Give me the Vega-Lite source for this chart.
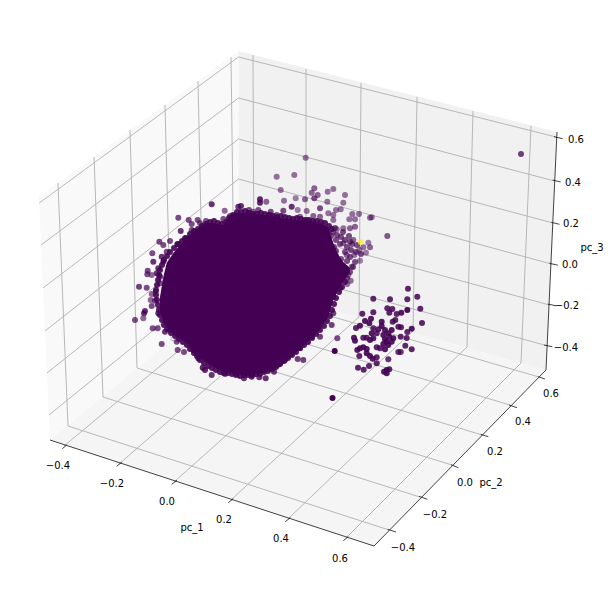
{
"$schema":"https://vega.github.io/schema/vega-lite/v6.json",
"width":610,"height":590,"padding":0,
"autosize":{"type":"fit","contains":"padding"},
"background":"white",
"config":{"view":{"stroke":null}},
"datasets":{
"panes":[
{"pane":"pc_1 wall","h":39,"v":197,"v2":197},{"pane":"pc_1 wall","h":50,"v":189,"v2":440},{"pane":"pc_1 wall","h":238.5,"v":51,"v2":284},
{"pane":"pc_2 wall","h":238.5,"v":51,"v2":284},{"pane":"pc_2 wall","h":546,"v":129.2,"v2":370},{"pane":"pc_2 wall","h":557,"v":132,"v2":132},
{"pane":"floor","h":50,"v":440,"v2":440},{"pane":"floor","h":239,"v":284,"v2":501.8},{"pane":"floor","h":374,"v":321.8,"v2":546},{"pane":"floor","h":546,"v":370,"v2":370}
],
"grid":[
{"h":238.5,"v":57,"h2":39.3,"v2":203},{"h":238.5,"v":98,"h2":41,"v2":245},{"h":238.5,"v":139,"h2":43,"v2":288},{"h":238.5,"v":179,"h2":45,"v2":331},{"h":238.5,"v":220,"h2":47,"v2":373},{"h":238.5,"v":261,"h2":49,"v2":415},
{"h":238.5,"v":57,"h2":556,"v2":137},{"h":238.5,"v":98,"h2":554.5,"v2":181},{"h":238.5,"v":139,"h2":553,"v2":223},{"h":238.5,"v":179,"h2":551.5,"v2":264},{"h":238.5,"v":220,"h2":549.5,"v2":305},{"h":238.5,"v":261,"h2":548,"v2":346},
{"h":58,"v":183,"h2":68,"v2":426},{"h":94,"v":157,"h2":103,"v2":397},{"h":130,"v":130,"h2":137,"v2":368},{"h":165,"v":105,"h2":171,"v2":340},{"h":198,"v":81,"h2":203,"v2":313},{"h":231,"v":57,"h2":234,"v2":288},
{"h":253,"v":55,"h2":254,"v2":288},{"h":306,"v":69,"h2":306,"v2":302},{"h":361,"v":83,"h2":359,"v2":317},{"h":417,"v":97,"h2":413,"v2":331},{"h":473,"v":111,"h2":467,"v2":347},{"h":531,"v":126,"h2":521,"v2":363},
{"h":64,"v":446,"h2":254,"v2":288},{"h":119,"v":464,"h2":306,"v2":302},{"h":174,"v":482,"h2":359,"v2":317},{"h":231,"v":500,"h2":413,"v2":331},{"h":288,"v":519,"h2":467,"v2":347},{"h":346,"v":538,"h2":521,"v2":363},
{"h":68,"v":426,"h2":389,"v2":530},{"h":103,"v":397,"h2":420,"v2":497},{"h":137,"v":368,"h2":452,"v2":465},{"h":171,"v":340,"h2":482,"v2":435},{"h":203,"v":313,"h2":510,"v2":405},{"h":234,"v":288,"h2":539,"v2":377}
],
"axes":[
{"h":50,"v":440,"h2":374,"v2":546},{"h":374,"v":546,"h2":546,"v2":370},{"h":546,"v":370,"h2":557,"v2":132},
{"h":62.3,"v":448.7,"h2":66.7,"v2":445},{"h":116.7,"v":466.3,"h2":121.7,"v2":462.3},{"h":171.7,"v":484.3,"h2":177,"v2":480.3},{"h":228.3,"v":502.7,"h2":233.3,"v2":498.7},{"h":285.3,"v":521.7,"h2":290.3,"v2":517.7},{"h":343.3,"v":540.7,"h2":348.3,"v2":536.7},
{"h":387.7,"v":529.3,"h2":396,"v2":532},{"h":419,"v":496.3,"h2":427.3,"v2":499.3},{"h":451,"v":464.7,"h2":458.3,"v2":467.7},{"h":480.7,"v":434.3,"h2":488.3,"v2":436.7},{"h":509,"v":405,"h2":517,"v2":407.7},{"h":538.3,"v":376.7,"h2":545,"v2":379},
{"h":554,"v":136.7,"h2":562.7,"v2":138.7},{"h":552.7,"v":180,"h2":560.7,"v2":182},{"h":551.3,"v":222.3,"h2":559.5,"v2":224.3},{"h":549.5,"v":263.3,"h2":557.8,"v2":265.2},{"h":547.8,"v":304,"h2":556,"v2":305.8},{"h":544,"v":345,"h2":552.3,"v2":346.7}
],
"labels":[
{"h":58,"v":466,"label":"−0.4"},{"h":112,"v":484,"label":"−0.2"},{"h":167,"v":502,"label":"0.0"},{"h":224,"v":520,"label":"0.2"},{"h":281,"v":539,"label":"0.4"},{"h":340,"v":559,"label":"0.6"},{"h":192,"v":528,"label":"pc_1"},
{"h":551,"v":394,"label":"0.6"},{"h":523,"v":422,"label":"0.4"},{"h":495,"v":452,"label":"0.2"},{"h":465,"v":483,"label":"0.0"},{"h":435,"v":515,"label":"−0.2"},{"h":403,"v":548,"label":"−0.4"},{"h":491,"v":483,"label":"pc_2"},
{"h":576,"v":140,"label":"0.6"},{"h":573,"v":183,"label":"0.4"},{"h":571,"v":224,"label":"0.2"},{"h":570,"v":265,"label":"0.0"},{"h":567,"v":306,"label":"−0.2"},{"h":566,"v":348,"label":"−0.4"},{"h":592,"v":248,"label":"pc_3"}
],
"core":[
{"h":160,"v":297,"v2":310},{"h":163.3,"v":277,"v2":322},{"h":166.7,"v":263,"v2":327},{"h":173.3,"v":253,"v2":335},{"h":178.3,"v":247,"v2":338},{"h":186.7,"v":237,"v2":343},{"h":193.3,"v":232,"v2":353},{"h":200,"v":227,"v2":358},{"h":206.7,"v":223,"v2":363},{"h":213.3,"v":223,"v2":367},{"h":223.3,"v":225,"v2":372},{"h":230,"v":215,"v2":373},{"h":236.7,"v":213,"v2":374},{"h":246.7,"v":213,"v2":376},{"h":263.3,"v":215,"v2":373},{"h":280,"v":218,"v2":367},{"h":296.7,"v":220,"v2":352},{"h":310,"v":221,"v2":340},{"h":320,"v":223,"v2":330},{"h":328.3,"v":227,"v2":317},{"h":333.3,"v":243,"v2":300},{"h":338.3,"v":255,"v2":290},{"h":343.3,"v":262,"v2":282},{"h":350,"v":268,"v2":272}
],
"points":[
{"h":186,"v":238,"depth":0.9,"cluster":0},{"h":190,"v":234,"depth":0.9,"cluster":0},{"h":194,"v":231,"depth":0.9,"cluster":0},{"h":198,"v":229,"depth":0.9,"cluster":0},{"h":202,"v":226,"depth":0.9,"cluster":0},{"h":206,"v":224,"depth":0.9,"cluster":0},{"h":210,"v":222,"depth":0.9,"cluster":0},{"h":214,"v":221,"depth":0.9,"cluster":0},{"h":218,"v":223,"depth":0.9,"cluster":0},{"h":222,"v":224,"depth":0.9,"cluster":0},{"h":226,"v":222,"depth":0.9,"cluster":0},{"h":229,"v":218,"depth":0.9,"cluster":0},{"h":233,"v":215,"depth":0.9,"cluster":0},{"h":237,"v":212,"depth":0.9,"cluster":0},{"h":241,"v":212,"depth":0.9,"cluster":0},{"h":245,"v":211,"depth":0.9,"cluster":0},{"h":249,"v":213,"depth":0.9,"cluster":0},{"h":253,"v":214,"depth":0.9,"cluster":0},{"h":257,"v":214,"depth":0.9,"cluster":0},{"h":261,"v":213,"depth":0.9,"cluster":0},{"h":265,"v":214,"depth":0.9,"cluster":0},{"h":269,"v":215,"depth":0.9,"cluster":0},{"h":273,"v":216,"depth":0.9,"cluster":0},{"h":277,"v":217,"depth":0.9,"cluster":0},{"h":281,"v":216,"depth":0.9,"cluster":0},{"h":285,"v":217,"depth":0.9,"cluster":0},{"h":289,"v":218,"depth":0.9,"cluster":0},{"h":293,"v":219,"depth":0.9,"cluster":0},{"h":297,"v":218,"depth":0.9,"cluster":0},{"h":301,"v":219,"depth":0.9,"cluster":0},{"h":305,"v":220,"depth":0.9,"cluster":0},{"h":309,"v":220,"depth":0.9,"cluster":0},{"h":313,"v":221,"depth":0.9,"cluster":0},{"h":317,"v":221,"depth":0.9,"cluster":0},{"h":321,"v":222,"depth":0.9,"cluster":0},{"h":325,"v":223,"depth":0.9,"cluster":0},{"h":329,"v":226,"depth":0.9,"cluster":0},{"h":332,"v":229,"depth":0.9,"cluster":0},
{"h":182,"v":241,"depth":0.9,"cluster":0},{"h":178,"v":244,"depth":0.9,"cluster":0},{"h":174,"v":248,"depth":0.9,"cluster":0},{"h":170,"v":252,"depth":0.9,"cluster":0},{"h":167,"v":256,"depth":0.9,"cluster":0},{"h":164,"v":260,"depth":0.9,"cluster":0},{"h":162,"v":265,"depth":0.9,"cluster":0},{"h":160,"v":270,"depth":0.9,"cluster":0},{"h":159,"v":275,"depth":0.9,"cluster":0},{"h":158,"v":280,"depth":0.9,"cluster":0},{"h":157,"v":285,"depth":0.9,"cluster":0},{"h":156,"v":290,"depth":0.9,"cluster":0},{"h":156,"v":295,"depth":0.9,"cluster":0},{"h":157,"v":300,"depth":0.9,"cluster":0},{"h":158,"v":305,"depth":0.9,"cluster":0},{"h":159,"v":310,"depth":0.9,"cluster":0},{"h":160,"v":315,"depth":0.9,"cluster":0},{"h":162,"v":320,"depth":0.9,"cluster":0},{"h":164,"v":325,"depth":0.9,"cluster":0},{"h":167,"v":329,"depth":0.9,"cluster":0},{"h":171,"v":333,"depth":0.9,"cluster":0},{"h":175,"v":336,"depth":0.9,"cluster":0},{"h":179,"v":339,"depth":0.9,"cluster":0},{"h":183,"v":342,"depth":0.9,"cluster":0},{"h":187,"v":345,"depth":0.9,"cluster":0},{"h":190,"v":349,"depth":0.9,"cluster":0},{"h":194,"v":353,"depth":0.9,"cluster":0},{"h":197,"v":356,"depth":0.9,"cluster":0},{"h":200,"v":360,"depth":0.9,"cluster":0},
{"h":204,"v":363,"depth":0.9,"cluster":0},{"h":208,"v":366,"depth":0.9,"cluster":0},{"h":212,"v":368,"depth":0.9,"cluster":0},{"h":216,"v":370,"depth":0.9,"cluster":0},{"h":220,"v":372,"depth":0.9,"cluster":0},{"h":224,"v":373,"depth":0.9,"cluster":0},{"h":228,"v":373,"depth":0.9,"cluster":0},{"h":232,"v":374,"depth":0.9,"cluster":0},{"h":236,"v":375,"depth":0.9,"cluster":0},{"h":240,"v":376,"depth":0.9,"cluster":0},{"h":244,"v":375,"depth":0.9,"cluster":0},{"h":248,"v":375,"depth":0.9,"cluster":0},{"h":252,"v":375,"depth":0.9,"cluster":0},{"h":256,"v":374,"depth":0.9,"cluster":0},{"h":260,"v":374,"depth":0.9,"cluster":0},{"h":264,"v":372,"depth":0.9,"cluster":0},{"h":268,"v":371,"depth":0.9,"cluster":0},{"h":272,"v":369,"depth":0.9,"cluster":0},{"h":276,"v":367,"depth":0.9,"cluster":0},{"h":280,"v":364,"depth":0.9,"cluster":0},{"h":284,"v":361,"depth":0.9,"cluster":0},{"h":288,"v":358,"depth":0.9,"cluster":0},{"h":292,"v":355,"depth":0.9,"cluster":0},{"h":296,"v":352,"depth":0.9,"cluster":0},{"h":300,"v":348,"depth":0.9,"cluster":0},{"h":304,"v":345,"depth":0.9,"cluster":0},{"h":308,"v":342,"depth":0.9,"cluster":0},{"h":312,"v":338,"depth":0.9,"cluster":0},{"h":316,"v":334,"depth":0.9,"cluster":0},{"h":320,"v":330,"depth":0.9,"cluster":0},{"h":324,"v":326,"depth":0.9,"cluster":0},{"h":327,"v":321,"depth":0.9,"cluster":0},{"h":330,"v":316,"depth":0.9,"cluster":0},{"h":332,"v":310,"depth":0.9,"cluster":0},{"h":334,"v":304,"depth":0.9,"cluster":0},{"h":336,"v":298,"depth":0.9,"cluster":0},{"h":339,"v":292,"depth":0.9,"cluster":0},{"h":342,"v":287,"depth":0.9,"cluster":0},{"h":345,"v":282,"depth":0.9,"cluster":0},
{"h":333,"v":232,"depth":0.7,"cluster":0},{"h":337,"v":235,"depth":0.7,"cluster":0},{"h":341,"v":237,"depth":0.7,"cluster":0},{"h":345,"v":240,"depth":0.7,"cluster":0},{"h":336,"v":240,"depth":0.7,"cluster":0},{"h":340,"v":244,"depth":0.7,"cluster":0},{"h":347,"v":247,"depth":0.7,"cluster":0},{"h":351,"v":250,"depth":0.7,"cluster":0},{"h":334,"v":247,"depth":0.7,"cluster":0},{"h":336,"v":251,"depth":0.7,"cluster":0},{"h":345,"v":252,"depth":0.7,"cluster":0},{"h":350,"v":257,"depth":0.7,"cluster":0},{"h":355,"v":262,"depth":0.7,"cluster":0},{"h":336,"v":256,"depth":0.7,"cluster":0},{"h":341,"v":259,"depth":0.7,"cluster":0},{"h":347,"v":261,"depth":0.7,"cluster":0},{"h":353,"v":267,"depth":0.7,"cluster":0},{"h":340,"v":265,"depth":0.7,"cluster":0},{"h":345,"v":268,"depth":0.7,"cluster":0},{"h":350,"v":272,"depth":0.7,"cluster":0},{"h":343,"v":275,"depth":0.7,"cluster":0},{"h":347,"v":278,"depth":0.7,"cluster":0},{"h":340,"v":280,"depth":0.7,"cluster":0},{"h":331,"v":236,"depth":0.7,"cluster":0},{"h":328,"v":232,"depth":0.7,"cluster":0},{"h":335,"v":228,"depth":0.7,"cluster":0},{"h":343,"v":232,"depth":0.7,"cluster":0},{"h":349,"v":236,"depth":0.7,"cluster":0},{"h":352,"v":244,"depth":0.7,"cluster":0},{"h":357,"v":245,"depth":0.7,"cluster":0},{"h":356,"v":252,"depth":0.7,"cluster":0},{"h":361,"v":254,"depth":0.7,"cluster":0},
{"h":305.7,"v":157.7,"depth":0.55,"cluster":0},{"h":276.7,"v":176.7,"depth":0.55,"cluster":0},{"h":294.3,"v":175,"depth":0.55,"cluster":0},{"h":280.7,"v":190,"depth":0.55,"cluster":0},{"h":333.3,"v":189,"depth":0.55,"cluster":0},{"h":327.7,"v":191.7,"depth":0.55,"cluster":0},{"h":314.3,"v":188.3,"depth":0.6,"cluster":0},{"h":311.7,"v":192.7,"depth":0.6,"cluster":0},{"h":317.7,"v":195,"depth":0.6,"cluster":0},{"h":345,"v":195,"depth":0.55,"cluster":0},{"h":314.3,"v":198.3,"depth":0.7,"cluster":0},{"h":305,"v":199.3,"depth":0.6,"cluster":0},{"h":295.7,"v":198.3,"depth":0.5,"cluster":0},{"h":284,"v":200.7,"depth":0.55,"cluster":0},{"h":327.3,"v":201.7,"depth":0.55,"cluster":0},{"h":343.3,"v":202.7,"depth":0.55,"cluster":0},{"h":297.7,"v":210,"depth":0.5,"cluster":0},{"h":306.7,"v":211,"depth":0.55,"cluster":0},{"h":320,"v":208.3,"depth":0.7,"cluster":0},{"h":336,"v":210,"depth":0.55,"cluster":0},{"h":340.7,"v":209.3,"depth":0.55,"cluster":0},{"h":352.3,"v":214,"depth":0.55,"cluster":0},{"h":359,"v":214,"depth":0.55,"cluster":0},{"h":328.3,"v":213.3,"depth":0.55,"cluster":0},{"h":333.3,"v":215,"depth":0.55,"cluster":0},{"h":370,"v":217.7,"depth":0.55,"cluster":0},{"h":371.7,"v":217.3,"depth":0.55,"cluster":0},{"h":387.3,"v":236,"depth":0.65,"cluster":0},{"h":355,"v":219.3,"depth":0.55,"cluster":0},{"h":349.3,"v":219.3,"depth":0.55,"cluster":0},{"h":355,"v":226.7,"depth":0.6,"cluster":0},{"h":350,"v":228.3,"depth":0.6,"cluster":0},{"h":343.3,"v":228.3,"depth":0.55,"cluster":0},{"h":336.7,"v":229.3,"depth":0.55,"cluster":0},{"h":333.3,"v":220,"depth":0.55,"cluster":0},{"h":320,"v":216.7,"depth":0.6,"cluster":0},{"h":313.3,"v":216,"depth":0.6,"cluster":0},{"h":306.7,"v":220,"depth":0.6,"cluster":0},{"h":300,"v":216.7,"depth":0.6,"cluster":0},{"h":368.3,"v":242.7,"depth":0.5,"cluster":0},{"h":363.3,"v":247.3,"depth":0.55,"cluster":0},{"h":370,"v":247.3,"depth":0.6,"cluster":0},{"h":366,"v":252.7,"depth":0.5,"cluster":0},{"h":359.3,"v":250,"depth":0.5,"cluster":0},{"h":354.3,"v":255,"depth":0.55,"cluster":0},{"h":360,"v":260.7,"depth":0.5,"cluster":0},{"h":353.3,"v":240,"depth":0.6,"cluster":0},{"h":350,"v":241.7,"depth":0.7,"cluster":0},{"h":343.3,"v":243.3,"depth":0.6,"cluster":0},{"h":346.7,"v":255,"depth":0.6,"cluster":0},{"h":351.7,"v":266.7,"depth":0.55,"cluster":0},{"h":348.3,"v":275,"depth":0.55,"cluster":0},{"h":350.7,"v":280.7,"depth":0.55,"cluster":0},{"h":347.3,"v":284,"depth":0.55,"cluster":0},{"h":340,"v":288.3,"depth":0.8,"cluster":0},
{"h":260,"v":199.3,"depth":0.85,"cluster":0},{"h":260,"v":202.7,"depth":0.85,"cluster":0},{"h":266.3,"v":201.7,"depth":0.6,"cluster":0},{"h":211.7,"v":204.3,"depth":0.8,"cluster":0},{"h":224.7,"v":210.7,"depth":0.6,"cluster":0},{"h":238.3,"v":206.7,"depth":0.8,"cluster":0},{"h":241,"v":206,"depth":0.8,"cluster":0},{"h":249,"v":210,"depth":0.7,"cluster":0},{"h":253.3,"v":211.7,"depth":0.6,"cluster":0},{"h":258.3,"v":210,"depth":0.7,"cluster":0},{"h":270.7,"v":211.7,"depth":0.7,"cluster":0},{"h":283.3,"v":210.7,"depth":0.7,"cluster":0},{"h":291.7,"v":206.7,"depth":0.8,"cluster":0},{"h":276.7,"v":215,"depth":0.7,"cluster":0},{"h":270,"v":215,"depth":0.7,"cluster":0},{"h":263.3,"v":218.3,"depth":0.7,"cluster":0},{"h":248.3,"v":215,"depth":0.7,"cluster":0},{"h":230,"v":216,"depth":0.7,"cluster":0},
{"h":178.3,"v":217.7,"depth":0.7,"cluster":0},{"h":188.7,"v":220,"depth":0.7,"cluster":0},{"h":197.7,"v":220,"depth":0.7,"cluster":0},{"h":206,"v":221,"depth":0.7,"cluster":0},{"h":223.3,"v":219,"depth":0.7,"cluster":0},{"h":191.7,"v":224,"depth":0.7,"cluster":0},{"h":200,"v":223.3,"depth":0.7,"cluster":0},{"h":180.7,"v":231,"depth":0.8,"cluster":0},{"h":191.7,"v":230,"depth":0.7,"cluster":0},{"h":185,"v":238.3,"depth":0.8,"cluster":0},{"h":159.3,"v":241.7,"depth":0.7,"cluster":0},{"h":170,"v":241,"depth":0.7,"cluster":0},{"h":163.3,"v":245,"depth":0.7,"cluster":0},{"h":177.3,"v":244.3,"depth":0.8,"cluster":0},{"h":152.3,"v":253.3,"depth":0.7,"cluster":0},{"h":166.7,"v":251.7,"depth":0.7,"cluster":0},{"h":161.7,"v":256.7,"depth":0.8,"cluster":0},{"h":153.3,"v":261.7,"depth":0.8,"cluster":0},{"h":163.3,"v":261.7,"depth":0.8,"cluster":0},{"h":147.7,"v":270.7,"depth":0.7,"cluster":0},{"h":158.3,"v":268.3,"depth":0.8,"cluster":0},{"h":147.3,"v":274.3,"depth":0.7,"cluster":0},{"h":156.7,"v":273.3,"depth":0.8,"cluster":0},{"h":160,"v":276.7,"depth":0.8,"cluster":0},{"h":151.7,"v":275,"depth":0.6,"cluster":0},{"h":139,"v":286.7,"depth":0.75,"cluster":0},{"h":146.7,"v":287.7,"depth":0.7,"cluster":0},{"h":160,"v":283.3,"depth":0.7,"cluster":0},{"h":155.7,"v":291.7,"depth":0.65,"cluster":0},{"h":151.7,"v":294,"depth":0.6,"cluster":0},{"h":150.7,"v":300,"depth":0.6,"cluster":0},{"h":155,"v":300.7,"depth":0.7,"cluster":0},{"h":151.7,"v":306,"depth":0.7,"cluster":0},{"h":145,"v":311,"depth":0.8,"cluster":0},{"h":144,"v":313.3,"depth":0.8,"cluster":0},{"h":135,"v":320,"depth":0.7,"cluster":0},{"h":143.3,"v":318.3,"depth":0.6,"cluster":0},{"h":158.3,"v":313.3,"depth":0.8,"cluster":0},{"h":152.7,"v":328.3,"depth":0.7,"cluster":0},{"h":157.7,"v":328.3,"depth":0.7,"cluster":0},{"h":165,"v":331.7,"depth":0.8,"cluster":0},{"h":161.7,"v":344,"depth":0.7,"cluster":0},{"h":170,"v":330,"depth":0.8,"cluster":0},{"h":176.7,"v":341.7,"depth":0.7,"cluster":0},{"h":177.7,"v":350,"depth":0.7,"cluster":0},{"h":184,"v":352,"depth":0.7,"cluster":0},{"h":193.3,"v":350,"depth":0.7,"cluster":0},
{"h":198.3,"v":358.3,"depth":0.85,"cluster":0},{"h":202.7,"v":367.7,"depth":0.85,"cluster":0},{"h":205,"v":370,"depth":0.85,"cluster":0},{"h":211.7,"v":375,"depth":0.8,"cluster":0},{"h":225,"v":374,"depth":0.75,"cluster":0},{"h":235.7,"v":373.3,"depth":0.8,"cluster":0},{"h":244,"v":378.3,"depth":0.8,"cluster":0},{"h":251.7,"v":376.7,"depth":0.85,"cluster":0},{"h":259.3,"v":377.3,"depth":0.8,"cluster":0},{"h":265.7,"v":378.3,"depth":0.8,"cluster":0},{"h":274,"v":371.7,"depth":0.8,"cluster":0},{"h":277.3,"v":365,"depth":0.85,"cluster":0},{"h":285,"v":360,"depth":0.85,"cluster":0},{"h":297.7,"v":359,"depth":0.75,"cluster":0},{"h":303.3,"v":360,"depth":0.75,"cluster":0},{"h":300,"v":348.3,"depth":0.75,"cluster":0},{"h":311.7,"v":336.7,"depth":0.75,"cluster":0},{"h":320,"v":336.7,"depth":0.75,"cluster":0},{"h":337.3,"v":338.3,"depth":0.7,"cluster":0},{"h":331.7,"v":325,"depth":0.75,"cluster":0},{"h":333.3,"v":313.3,"depth":0.75,"cluster":0},{"h":333.3,"v":296.7,"depth":0.85,"cluster":0},
{"h":521,"v":154,"depth":0.75,"cluster":0},{"h":332.5,"v":398,"depth":1,"cluster":0},{"h":360.7,"v":242,"depth":0.7,"cluster":1},
{"h":408,"v":288.7,"depth":0.85,"cluster":0},{"h":417.3,"v":296.7,"depth":0.85,"cluster":0},{"h":390,"v":299.3,"depth":0.85,"cluster":0},{"h":373.3,"v":298.7,"depth":0.85,"cluster":0},{"h":407.3,"v":299.3,"depth":0.85,"cluster":0},{"h":387.3,"v":308.3,"depth":0.85,"cluster":0},{"h":392.3,"v":309,"depth":0.85,"cluster":0},{"h":420.3,"v":308.7,"depth":0.85,"cluster":0},{"h":407.3,"v":310,"depth":0.95,"cluster":0},{"h":362.3,"v":313.7,"depth":0.85,"cluster":0},{"h":373.3,"v":312.3,"depth":0.85,"cluster":0},{"h":389.3,"v":312.7,"depth":0.85,"cluster":0},{"h":396.7,"v":314,"depth":0.85,"cluster":0},{"h":401.3,"v":312.7,"depth":0.9,"cluster":0},{"h":371,"v":318.7,"depth":0.9,"cluster":0},{"h":365,"v":321,"depth":0.9,"cluster":0},{"h":395.3,"v":320,"depth":0.85,"cluster":0},{"h":381.7,"v":321.7,"depth":0.9,"cluster":0},{"h":422,"v":323,"depth":0.85,"cluster":0},{"h":360,"v":325.7,"depth":0.9,"cluster":0},{"h":356,"v":328,"depth":0.85,"cluster":0},{"h":369.3,"v":323.3,"depth":0.9,"cluster":0},{"h":381.7,"v":326,"depth":0.9,"cluster":0},{"h":392.7,"v":321.7,"depth":0.85,"cluster":0},{"h":398.3,"v":326.7,"depth":0.85,"cluster":0},{"h":401,"v":327.3,"depth":0.85,"cluster":0},{"h":411.7,"v":328.7,"depth":0.9,"cluster":0},{"h":407.3,"v":332,"depth":0.85,"cluster":0},{"h":406.7,"v":338,"depth":0.85,"cluster":0},{"h":400.7,"v":336.7,"depth":0.85,"cluster":0},{"h":378.3,"v":329.3,"depth":0.85,"cluster":0},{"h":385,"v":330,"depth":0.9,"cluster":0},{"h":373.3,"v":328.3,"depth":0.85,"cluster":0},{"h":371.7,"v":333.3,"depth":0.9,"cluster":0},{"h":376.7,"v":333.3,"depth":0.85,"cluster":0},{"h":391.7,"v":330,"depth":0.9,"cluster":0},{"h":388.3,"v":333.3,"depth":0.9,"cluster":0},{"h":383.3,"v":335,"depth":0.9,"cluster":0},{"h":389.3,"v":336.7,"depth":0.9,"cluster":0},{"h":393.3,"v":338.3,"depth":0.9,"cluster":0},{"h":354,"v":337.7,"depth":0.9,"cluster":0},{"h":355,"v":340.7,"depth":0.9,"cluster":0},{"h":363.3,"v":337.7,"depth":0.85,"cluster":0},{"h":366.7,"v":337.7,"depth":0.85,"cluster":0},{"h":370,"v":340,"depth":0.9,"cluster":0},{"h":373.3,"v":338.3,"depth":0.9,"cluster":0},{"h":385,"v":339.3,"depth":0.9,"cluster":0},{"h":386.7,"v":341.7,"depth":0.9,"cluster":0},{"h":391.7,"v":341.7,"depth":0.9,"cluster":0},{"h":405.3,"v":345.7,"depth":0.85,"cluster":0},{"h":411.7,"v":349.3,"depth":0.85,"cluster":0},{"h":398.3,"v":352,"depth":0.8,"cluster":0},{"h":400.7,"v":352,"depth":0.8,"cluster":0},{"h":363.3,"v":347.3,"depth":0.9,"cluster":0},{"h":360,"v":348.3,"depth":0.9,"cluster":0},{"h":357.3,"v":350,"depth":0.9,"cluster":0},{"h":366.7,"v":349,"depth":0.9,"cluster":0},{"h":376.7,"v":347.3,"depth":0.85,"cluster":0},{"h":380,"v":348.3,"depth":0.85,"cluster":0},{"h":385,"v":349.3,"depth":0.9,"cluster":0},{"h":388.3,"v":345,"depth":0.9,"cluster":0},{"h":383.3,"v":344,"depth":0.9,"cluster":0},{"h":359.3,"v":356,"depth":0.85,"cluster":0},{"h":366.7,"v":353.3,"depth":0.9,"cluster":0},{"h":370,"v":356,"depth":0.9,"cluster":0},{"h":372.7,"v":358.7,"depth":0.9,"cluster":0},{"h":376.7,"v":357.3,"depth":0.85,"cluster":0},{"h":388.3,"v":359.3,"depth":0.8,"cluster":0},{"h":376.7,"v":363.3,"depth":0.85,"cluster":0},{"h":369,"v":366,"depth":0.85,"cluster":0},{"h":358,"v":367.7,"depth":0.85,"cluster":0},{"h":363.7,"v":369.7,"depth":0.85,"cluster":0},{"h":384,"v":371.7,"depth":0.9,"cluster":0},{"h":386.7,"v":373.3,"depth":0.9,"cluster":0},{"h":389.3,"v":369.3,"depth":0.85,"cluster":0},{"h":386.7,"v":370,"depth":0.9,"cluster":0},{"h":334.7,"v":351,"depth":1,"cluster":0}
]
},
"encoding":{
"x":{"field":"h","type":"quantitative","axis":null,"scale":{"domain":[0,610],"nice":false,"zero":false}},
"y":{"field":"v","type":"quantitative","axis":null,"scale":{"domain":[590,0],"nice":false,"zero":false}}
},
"layer":[
{
"data":{"name":"panes"},
"mark":{"type":"area","interpolate":"linear","opacity":1},
"encoding":{
"y2":{"field":"v2"},
"color":{"field":"pane","type":"nominal","legend":null,"scale":{"domain":["pc_1 wall","pc_2 wall","floor"],"range":["#f9f9f9","#f1f1f1","#f5f5f5"]}}
}
},
{
"data":{"name":"grid"},
"mark":{"type":"rule","color":"#b0b0b0","strokeWidth":0.9},
"encoding":{"x2":{"field":"h2"},"y2":{"field":"v2"}}
},
{
"data":{"name":"axes"},
"mark":{"type":"rule","color":"#111111","strokeWidth":0.8},
"encoding":{"x2":{"field":"h2"},"y2":{"field":"v2"}}
},
{
"data":{"name":"core"},
"mark":{"type":"area","color":"#440154","opacity":1},
"encoding":{"y2":{"field":"v2"}}
},
{
"data":{"name":"points"},
"mark":{"type":"circle","size":36},
"encoding":{
"color":{"field":"cluster","type":"quantitative","legend":null,"scale":{"scheme":"viridis","domain":[0,1]}},
"opacity":{"field":"depth","type":"quantitative","legend":null,"scale":{"domain":[0,1],"range":[0,1]}}
}
},
{
"data":{"name":"labels"},
"mark":{"type":"text","font":"DejaVu Sans","fontSize":10,"color":"#000000","align":"center","baseline":"middle"},
"encoding":{"text":{"field":"label","type":"nominal"}}
}
]
}
